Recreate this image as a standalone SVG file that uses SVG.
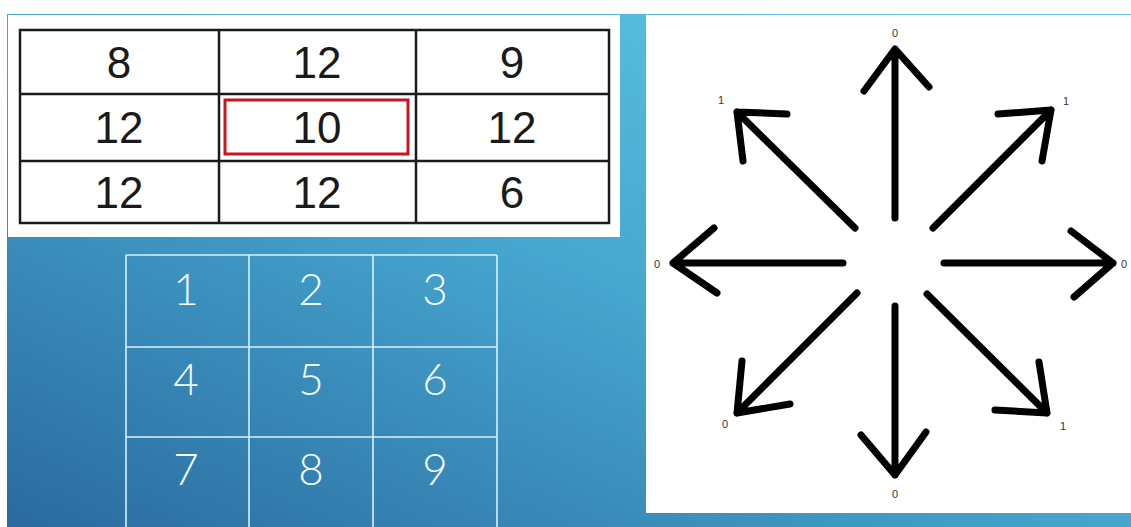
<svg xmlns="http://www.w3.org/2000/svg" width="1131" height="527" viewBox="0 0 1131 527">
<defs>
<linearGradient id="bg" x1="1" y1="0" x2="0" y2="1">
<stop offset="0" stop-color="#62CCE6"/>
<stop offset="0.5" stop-color="#46A6CF"/>
<stop offset="1" stop-color="#2A6AA0"/>
</linearGradient>
<style>
.cell{fill:none;stroke:#1a1a1a;stroke-width:2.5}
.num{font-family:"Liberation Sans",Arial,sans-serif;font-size:44px;fill:#1a1a1a;text-anchor:middle}
.wl{stroke:#D6F3FA;stroke-width:1.6;fill:none}
.wn{font-family:"Lato","DejaVu Sans",sans-serif;font-weight:300;font-size:44px;fill:#F2FBFE;text-anchor:middle}
.arr{stroke:#000;stroke-width:7;fill:none;stroke-linecap:round;stroke-linejoin:round}
.lbl{font-family:"Liberation Sans",Arial,sans-serif;font-size:11px;fill:#333;text-anchor:middle}
</style>
</defs>
<rect x="0" y="0" width="1131" height="527" fill="#ffffff"/>
<rect x="7" y="14" width="1124" height="513" fill="url(#bg)"/>

<g id="value-table">
<rect x="8" y="15" width="612" height="222" fill="#ffffff"/>
<rect class="cell" x="20" y="30" width="589" height="193"/>
<line class="cell" x1="219" y1="30" x2="219" y2="223"/>
<line class="cell" x1="416" y1="30" x2="416" y2="223"/>
<line class="cell" x1="20" y1="94" x2="609" y2="94"/>
<line class="cell" x1="20" y1="161" x2="609" y2="161"/>
<rect x="225" y="100" width="183" height="54" fill="none" stroke="#C8141C" stroke-width="3"/>
<text class="num" x="119" y="78">8</text>
<text class="num" x="317" y="78">12</text>
<text class="num" x="512" y="78">9</text>
<text class="num" x="119" y="143">12</text>
<text class="num" x="317" y="143">10</text>
<text class="num" x="512" y="143">12</text>
<text class="num" x="119" y="208">12</text>
<text class="num" x="317" y="208">12</text>
<text class="num" x="512" y="208">6</text>
</g>

<g id="index-grid">
<line class="wl" x1="126" y1="255" x2="126" y2="527"/>
<line class="wl" x1="249" y1="255" x2="249" y2="527"/>
<line class="wl" x1="373" y1="255" x2="373" y2="527"/>
<line class="wl" x1="497" y1="255" x2="497" y2="527"/>
<line class="wl" x1="126" y1="255" x2="497" y2="255"/>
<line class="wl" x1="126" y1="347" x2="497" y2="347"/>
<line class="wl" x1="126" y1="437" x2="497" y2="437"/>
<text class="wn" x="186" y="305">1</text>
<text class="wn" x="311" y="305">2</text>
<text class="wn" x="435" y="305">3</text>
<text class="wn" x="186" y="395">4</text>
<text class="wn" x="311" y="395">5</text>
<text class="wn" x="435" y="395">6</text>
<text class="wn" x="186" y="485">7</text>
<text class="wn" x="311" y="485">8</text>
<text class="wn" x="435" y="485">9</text>
</g>

<g id="direction-panel">
<rect x="646" y="15" width="485" height="498" fill="#ffffff"/>
</g>

<g id="connectors">
<path class="arr" d="M895 218 L895 49 M864 91 L895 49 L929 87"/>
<path class="arr" d="M895 306 L895 475 M861 435 L895 475 L926 432"/>
<path class="arr" d="M843 263 L673 263 M714 228 L673 263 L717 293"/>
<path class="arr" d="M944 263 L1113 263 M1071 231 L1113 263 L1074 297"/>
<path class="arr" d="M855 228 L737 112 M787 114 L737 112 L743 161"/>
<path class="arr" d="M933 228 L1051 110 M998 114 L1051 110 L1042 161"/>
<path class="arr" d="M857 293 L737 413 M742 361 L737 413 L790 404"/>
<path class="arr" d="M927 294 L1047 413 M1039 362 L1047 413 L995 410"/>
</g>

<g id="labels">
<text class="lbl" x="895" y="37">0</text>
<text class="lbl" x="721" y="104">1</text>
<text class="lbl" x="1066" y="105">1</text>
<text class="lbl" x="657" y="268">0</text>
<text class="lbl" x="1124" y="268">0</text>
<text class="lbl" x="725" y="428">0</text>
<text class="lbl" x="1063" y="430">1</text>
<text class="lbl" x="895" y="498">0</text>
</g>
</svg>
